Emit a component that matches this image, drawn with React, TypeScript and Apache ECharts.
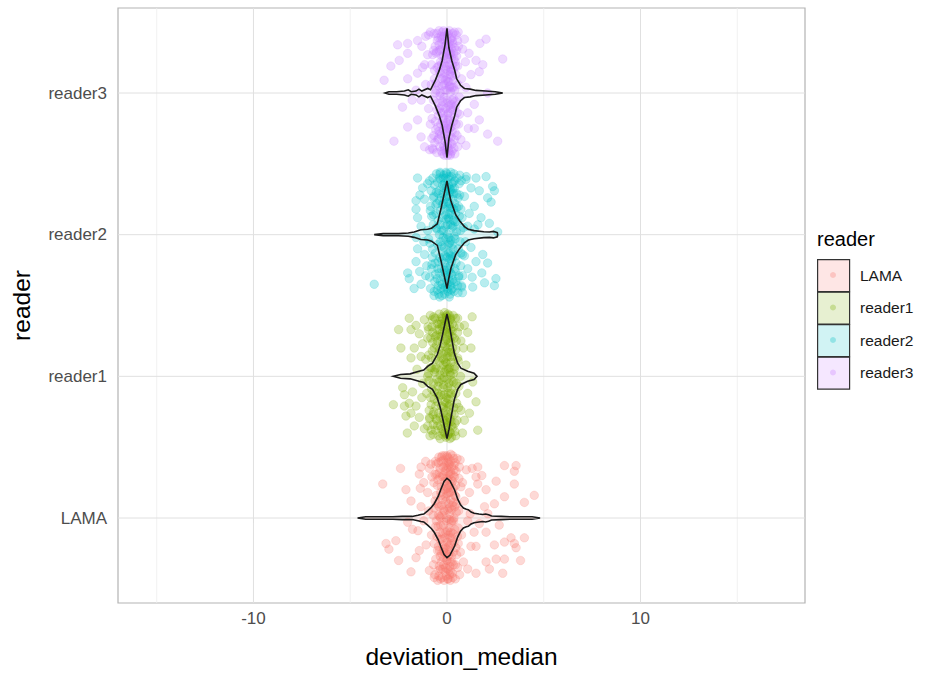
import React, { useEffect, useRef } from "react";
import * as echarts from "echarts";

const categories = ["LAMA", "reader1", "reader2", "reader3"];
const colors = ["#F8766D", "#7CAE00", "#00BFC4", "#C77CFF"];
const xLabelTicks = [-10, 0, 10];
const xMajorGrid = [-10, 0, 10];
const xMinorGrid = [-15, -5, 5, 15];
const yTicks = [0, 1, 2, 3];

// violin max half-width (category units) and profiles [x, relative width]
const violinMaxHalf = [0.28, 0.44, 0.38, 0.456];
const violinLAMA: [number, number][] = [
  [-4.62, 0], [-4.2, 0.03], [-3.5, 0.03], [-2.8, 0.03], [-2.3, 0.04], [-1.8, 0.04], [-1.5, 0.07], [-1.35, 0.09],
  [-1.2, 0.1], [-1.0, 0.18], [-0.8, 0.27], [-0.66, 0.36], [-0.45, 0.55], [-0.31, 0.73], [-0.15, 0.92], [0, 1],
  [0.15, 0.94], [0.3, 0.8], [0.4, 0.7], [0.55, 0.48], [0.7, 0.33], [0.85, 0.25], [1.0, 0.22], [1.1, 0.21],
  [1.25, 0.15], [1.4, 0.12], [1.65, 0.1], [1.85, 0.09], [2.0, 0.1], [2.15, 0.08], [2.3, 0.05], [2.8, 0.04],
  [3.3, 0.03], [3.9, 0.03], [4.4, 0.03], [4.81, 0],
];
const violinReader1: [number, number][] = [
  [-2.77, 0], [-2.4, 0.03], [-1.9, 0.04], [-1.45, 0.08], [-1.2, 0.1], [-1.0, 0.16], [-0.75, 0.21], [-0.5, 0.35],
  [-0.35, 0.5], [-0.22, 0.68], [-0.1, 0.86], [0, 1], [0.1, 0.86], [0.2, 0.68], [0.38, 0.37], [0.55, 0.21],
  [0.72, 0.13], [1.07, 0.08], [1.4, 0.05], [1.55, 0],
];
const violinReader2: [number, number][] = [
  [-3.76, 0], [-3.3, 0.02], [-2.5, 0.02], [-2.0, 0.03], [-1.7, 0.05], [-1.35, 0.09], [-1.0, 0.1], [-0.8, 0.12],
  [-0.5, 0.2], [-0.3, 0.5], [-0.15, 0.75], [0, 1], [0.1, 0.8], [0.2, 0.63], [0.45, 0.37], [0.65, 0.26],
  [0.9, 0.15], [1.1, 0.1], [1.4, 0.075], [1.9, 0.055], [2.2, 0.05], [2.4, 0.06], [2.6, 0.04], [2.62, 0],
];
const violinReader3: [number, number][] = [
  [-3.2, 0], [-3.0, 0.02], [-2.6, 0.02], [-2.2, 0.03], [-2.0, 0.05], [-1.85, 0.02], [-1.6, 0.03], [-1.45, 0.06],
  [-1.3, 0.03], [-1.0, 0.07], [-0.85, 0.05], [-0.6, 0.2], [-0.4, 0.35], [-0.25, 0.5], [-0.1, 0.75], [0, 1],
  [0.1, 0.7], [0.25, 0.5], [0.4, 0.35], [0.5, 0.22], [0.7, 0.12], [0.9, 0.07], [1.2, 0.06], [1.5, 0.04],
  [2.0, 0.03], [2.5, 0.02], [2.88, 0],
];
const violins = [violinLAMA, violinReader1, violinReader2, violinReader3];

// jittered points: [deviation_median, vertical jitter]
const pointsLAMA: [number, number][] = [
  [0.03, -0.43], [-0.12, 0.37], [0.2, 0.31], [-0.33, -0.36], [0.3, -0.11], [0.0, 0.44], [0.11, 0.23], [-0.23, 0.13],
  [0.42, 0.39], [-0.46, -0.06], [0.15, -0.4], [-0.09, -0.21], [0.25, 0.06], [-0.04, 0.28], [0.33, -0.33], [-0.4, 0.32],
  [0.07, -0.12], [-0.28, -0.25], [0.19, 0.45], [-0.05, -0.02], [0.46, -0.21], [-0.55, 0.16], [0.09, 0.1], [-0.19, 0.41],
  [0.28, -0.39], [-0.02, -0.3], [0.16, 0.18], [-0.36, -0.15], [0.04, 0.06], [0.41, 0.16], [-0.26, 0.02], [0.12, -0.07],
  [-0.15, -0.44], [0.24, -0.27], [-0.43, -0.37], [0.06, 0.36], [-0.31, 0.4], [0.36, 0.0], [-0.08, -0.38], [0.18, 0.33],
  [-0.5, 0.23], [0.1, -0.26], [-0.21, -0.11], [0.29, 0.26], [0.01, -0.17], [0.51, 0.1], [-0.38, 0.01], [0.14, -0.34],
  [-0.11, 0.26], [0.23, -0.18], [-0.58, -0.29], [0.05, 0.21], [-0.25, -0.42], [0.37, 0.34], [-0.03, 0.35], [0.22, -0.03],
  [-0.32, 0.18], [0.08, 0.42], [-0.16, -0.28], [0.32, 0.11], [-0.07, 0.15], [0.02, -0.36], [-0.44, -0.2], [0.17, -0.14],
  [-0.2, 0.3], [0.62, 0.28], [-0.7, -0.33], [0.75, -0.12], [-0.66, 0.07], [0.68, 0.41], [0.85, -0.31], [-0.78, 0.29],
  [-0.41, 0.08], [0.13, 0.38], [-0.18, -0.05], [0.34, -0.24], [-0.06, 0.12], [0.21, 0.4], [-0.29, -0.31], [0.08, -0.2],
  [-0.13, 0.2], [0.39, 0.29], [-0.35, 0.35], [0.02, -0.09], [0.27, -0.02], [-0.22, -0.36], [0.11, 0.3], [-0.47, 0.27],
  [0.18, -0.31], [-0.01, 0.39], [0.31, 0.19], [-0.27, 0.09], [0.06, -0.43], [-0.1, -0.14], [0.44, -0.33], [-0.37, -0.1],
  [0.15, 0.03], [-0.04, -0.41], [0.23, 0.24], [-0.2, 0.36], [0.0, 0.17], [-0.52, -0.13], [0.35, 0.42], [-0.14, 0.05],
  [0.1, -0.37], [-0.3, 0.22], [0.26, -0.14], [-0.08, -0.25], [0.48, 0.04], [-0.42, -0.41], [0.04, 0.27], [-0.24, -0.19],
  [0.19, 0.13], [-0.12, 0.44], [0.3, -0.42], [-0.33, 0.0], [0.07, 0.32], [-0.02, 0.0], [0.14, -0.23], [-0.45, 0.39],
  [0.4, -0.08], [-0.17, -0.33], [0.24, 0.36], [-0.06, -0.1], [0.12, 0.07], [-0.39, -0.23], [0.33, 0.3], [-0.23, 0.29],
  [0.01, -0.3], [-0.09, 0.33], [0.17, -0.44], [-0.28, 0.43], [0.45, 0.23], [-0.55, -0.02], [0.58, -0.18], [-0.62, 0.31],
  [0.09, 0.18], [-0.15, -0.22], [0.28, 0.09], [-0.34, -0.43], [0.03, 0.43], [0.2, -0.1],
  [-0.62, 0.12], [0.55, -0.35], [-0.48, -0.44], [0.47, 0.33], [-0.57, 0.38], [0.6, 0.05], [-0.35, -0.27], [0.37, -0.17],
  [-0.44, 0.02], [0.52, 0.42], [-0.66, -0.18], [0.43, -0.43], [-0.3, 0.16], [0.32, 0.21], [-0.53, 0.31], [0.58, -0.07],
  [-0.4, -0.34], [0.5, -0.26], [-0.68, 0.25], [0.4, 0.08], [-0.24, 0.44], [0.26, -0.31], [-0.58, -0.06], [0.64, 0.36],
  [-0.36, 0.29], [0.46, 0.15], [-0.49, -0.23], [0.34, -0.02], [-0.19, 0.06], [0.21, 0.27], [-0.08, -0.35], [0.09, 0.39],
  [-0.63, -0.4], [0.69, -0.24], [-0.27, -0.15], [0.15, -0.19], [-0.12, 0.23], [0.05, -0.27], [-0.42, 0.43], [0.29, 0.44],
  [-0.01, 0.21], [0.13, -0.01], [-0.5, 0.1], [0.54, -0.13], [-0.16, -0.24], [0.36, 0.37], [-0.71, 0.02], [0.72, 0.22],
  [-0.33, -0.05], [0.19, -0.38],
  [-0.8, -0.12], [0.9, 0.12], [-1.1, 0.4], [1.3, 0.35], [-0.6, 0.4], [0.65, -0.4], [1.2, 0.03], [-0.95, 0.05],
  [0.8, 0.25], [1.8, 0.3], [-2.4, 0.35], [2.7, -0.05], [-2.5, -0.3], [3.8, -0.3], [1.4, -0.1],
  [-3.32, 0.24], [-3.15, -0.18], [-3.0, -0.22], [-2.64, -0.16], [-2.12, 0.2], [-2.03, -0.03], [-1.86, 0.12], [-1.78, -0.08],
  [-1.86, -0.38], [-1.43, 0.31], [-1.38, 0.21], [-1.2, 0.25], [-0.91, 0.35], [-1.0, 0.18], [-1.34, 0.08], [-1.5, -0.09],
  [-1.43, -0.23], [-1.6, -0.28], [-1.08, -0.19], [-0.91, -0.37], [-1.2, -0.02], [-0.83, 0.38], [-1.34, 0.36], [-0.66, -0.42],
  [1.5, 0.29], [1.59, 0.36], [2.02, 0.2], [2.54, 0.26], [2.97, 0.37], [3.57, 0.37], [3.48, 0.33], [3.48, 0.24],
  [4.51, 0.16], [4.0, 0.11], [2.97, 0.15], [2.45, 0.1], [1.94, 0.08], [2.02, -0.1], [2.45, -0.19], [2.97, -0.17],
  [3.31, -0.14], [4.0, -0.14], [3.48, -0.18], [3.57, -0.21], [2.97, -0.29], [2.54, -0.29], [2.02, -0.31], [1.5, -0.39],
  [1.07, -0.36], [1.5, -0.2], [1.67, -0.04], [1.16, 0.18], [1.59, 0.24], [2.11, 0.03], [1.0, 0.34], [1.24, -0.2],
  [1.07, -0.02], [2.19, -0.36], [2.88, -0.39],
];
const pointsReader1: [number, number][] = [
  [-0.02, 0.42], [-0.25, 0.35], [0.1, 0.3], [-0.5, -0.35], [0.2, -0.12], [-0.12, 0.45], [0.04, 0.2], [-0.38, 0.1],
  [0.28, 0.37], [-0.7, -0.05], [0.06, -0.41], [-0.2, -0.22], [0.15, 0.03], [-0.08, 0.25], [0.23, -0.35], [-0.55, 0.29],
  [-0.03, -0.15], [-0.44, -0.26], [0.12, 0.43], [-0.15, -0.01], [0.35, -0.22], [-0.8, 0.13], [0.0, 0.09], [-0.3, 0.39],
  [0.18, -0.4], [-0.1, -0.31], [0.08, 0.17], [-0.48, -0.18], [-0.05, 0.05], [0.31, 0.14], [-0.36, 0.01], [0.03, -0.08],
  [-0.24, 0.41], [0.16, -0.3], [-0.6, -0.38], [-0.01, 0.33], [-0.42, 0.37], [0.26, -0.03], [-0.18, -0.39], [0.09, 0.31],
  [-0.66, 0.2], [0.02, -0.27], [-0.32, -0.13], [0.2, 0.24], [-0.11, -0.18], [0.4, 0.07], [-0.52, -0.02], [0.05, -0.35],
  [-0.22, 0.23], [0.14, -0.2], [-0.9, -0.29], [-0.04, 0.18], [-0.35, -0.44], [0.27, 0.32], [-0.13, 0.36], [0.11, -0.05],
  [-0.45, 0.16], [-0.02, 0.4], [-0.27, -0.37], [0.22, 0.1], [-0.16, 0.12], [-0.07, -0.36], [-0.58, -0.21], [0.07, -0.16],
  [-0.3, 0.28], [-0.75, 0.4], [-0.85, -0.15], [-0.62, 0.05], [0.45, -0.42], [0.48, 0.25], [-0.95, 0.33], [-0.72, -0.27],
  [-0.4, 0.44], [0.05, 0.38], [-0.65, -0.11], [0.25, -0.26], [-0.28, 0.13], [-0.06, -0.43], [0.14, 0.27], [-0.5, 0.33],
  [-0.17, -0.06], [0.33, 0.02], [-0.74, 0.24], [-0.02, -0.19], [0.19, 0.41], [-0.35, -0.29], [-0.09, 0.21], [0.42, -0.33],
  [-0.56, 0.06], [0.07, 0.05], [-0.23, -0.41], [-0.82, -0.2], [0.29, 0.2], [-0.13, 0.32], [-0.46, -0.07], [0.1, -0.29],
  [-0.31, 0.37], [0.0, -0.02], [-0.62, 0.41], [0.22, -0.09], [-0.19, -0.26], [-0.4, 0.19], [0.16, 0.14], [-0.04, 0.43],
  [-0.71, -0.34], [0.36, 0.35], [-0.26, -0.02], [-0.11, -0.4], [0.12, 0.36], [-0.53, -0.31], [-0.2, 0.08], [0.03, -0.33],
  [-0.37, 0.28], [0.24, -0.43], [-0.07, 0.1], [-0.87, 0.06], [0.46, -0.12], [-0.29, -0.21], [0.09, 0.24], [-0.15, -0.13],
  [-0.6, 0.12], [0.18, 0.01], [-0.44, -0.42], [-0.01, 0.26], [-0.33, 0.04], [0.31, -0.36], [-0.1, 0.39], [-0.68, -0.25],
  [0.06, -0.12], [-0.24, 0.31], [0.2, 0.33], [-0.48, 0.25], [-0.14, -0.33], [0.01, 0.14], [-0.78, 0.35], [0.38, 0.27],
  [-0.21, -0.08], [-0.05, -0.24], [-0.95, 0.02], [0.13, -0.39], [-0.41, -0.14], [-0.27, 0.42],
  [-0.98, 0.35], [0.52, -0.31], [-0.88, -0.42], [0.44, 0.41], [-1.05, -0.12], [0.58, 0.11], [-0.76, 0.18], [0.34, -0.04],
  [-0.92, -0.24], [0.5, -0.19], [-0.69, 0.42], [0.27, 0.28], [-0.84, 0.27], [0.41, -0.39], [-0.57, -0.3], [0.17, 0.4],
  [-0.64, 0.03], [0.55, 0.31], [-0.79, -0.09], [0.3, -0.15], [-0.51, 0.37], [0.21, -0.32], [-0.95, 0.15], [0.46, 0.19],
  [-0.72, -0.41], [0.13, 0.06], [-0.61, 0.28], [0.37, -0.27], [-0.43, -0.04], [0.04, 0.44], [-0.86, 0.43], [0.24, 0.17],
  [-0.34, -0.35], [0.09, -0.21], [-1.0, -0.35], [0.48, -0.05], [-0.54, 0.22], [-0.25, 0.16], [-0.47, -0.12], [0.32, 0.43],
  [-0.8, 0.06], [-0.12, 0.03], [-0.67, -0.16], [0.15, -0.44], [-0.39, 0.33], [-0.93, -0.03], [0.6, -0.22], [-0.2, -0.3],
  [-0.74, 0.31], [0.02, -0.42],
  [-1.1, 0.12], [0.7, 0.0], [-1.3, -0.15], [0.85, 0.2], [-1.55, 0.05], [0.65, 0.35], [-2.5, 0.33], [1.3, 0.42],
  [-2.05, -0.4], [0.8, -0.4],
  [-1.95, 0.41], [-1.6, 0.36], [-1.86, 0.33], [-1.17, 0.4], [-1.43, 0.3], [-2.38, 0.2], [-1.69, 0.2], [-1.86, 0.13],
  [-1.26, 0.23], [-1.0, 0.27], [-1.34, 0.14], [-2.29, -0.08], [-1.78, -0.11], [-2.2, -0.13], [-1.95, -0.19], [-2.77, -0.2],
  [-2.2, -0.21], [-1.6, -0.21], [-1.86, -0.26], [-1.43, -0.29], [-2.12, -0.28], [-0.9, -0.3], [-1.69, -0.35], [-1.17, -0.37],
  [-0.82, -0.38], [-1.0, 0.0], [-1.26, -0.05], [0.55, 0.41], [0.9, 0.36], [1.07, 0.31], [0.72, 0.25], [1.24, 0.2],
  [0.55, 0.13], [0.98, 0.08], [1.5, -0.18], [1.07, -0.12], [0.72, -0.24], [1.16, -0.26], [1.59, -0.38], [0.9, -0.31],
  [0.62, -0.07], [0.38, 0.05], [1.33, -0.04],
];
const pointsReader2: [number, number][] = [
  [0.05, -0.4], [-0.14, 0.36], [0.22, 0.3], [-0.35, -0.33], [0.31, -0.1], [-0.02, 0.43], [0.12, 0.22], [-0.24, 0.12],
  [0.4, 0.38], [-0.48, -0.07], [0.16, -0.42], [-0.1, -0.2], [0.26, 0.05], [0.0, 0.27], [0.34, -0.34], [-0.41, 0.31],
  [0.08, -0.13], [-0.3, -0.24], [0.2, 0.44], [-0.06, -0.03], [0.47, -0.2], [-0.57, 0.15], [0.1, 0.11], [-0.2, 0.4],
  [0.29, -0.38], [-0.04, -0.29], [0.17, 0.19], [-0.37, -0.16], [0.03, 0.07], [0.44, 0.15], [-0.27, 0.03], [0.13, -0.06],
  [-0.16, 0.42], [0.25, -0.28], [-0.45, -0.36], [0.07, 0.35], [-0.32, 0.39], [0.37, -0.01], [-0.09, -0.37], [0.19, 0.32],
  [-0.52, 0.22], [0.11, -0.25], [-0.22, -0.12], [0.3, 0.25], [-0.01, -0.16], [0.53, 0.09], [-0.39, 0.0], [0.15, -0.33],
  [-0.13, 0.25], [0.24, -0.19], [-0.6, -0.28], [0.06, 0.2], [-0.26, -0.43], [0.38, 0.33], [-0.03, 0.34], [0.21, -0.04],
  [-0.34, 0.17], [0.09, 0.41], [-0.17, -0.39], [0.33, 0.1], [-0.07, 0.14], [0.02, -0.35], [-0.46, -0.19], [0.18, -0.15],
  [-0.21, 0.29], [0.6, -0.3], [-0.64, 0.35], [0.72, 0.18], [-0.75, -0.1], [0.8, -0.41], [-0.7, 0.26], [0.66, 0.42],
  [0.42, -0.03], [-0.08, 0.4], [0.18, -0.27], [-0.29, 0.26], [0.07, 0.12], [-0.5, -0.31], [0.32, 0.37], [-0.15, -0.09],
  [0.12, -0.44], [-0.36, 0.07], [0.26, 0.19], [-0.03, -0.23], [0.5, 0.29], [-0.22, 0.35], [0.02, 0.0], [-0.43, -0.42],
  [0.21, -0.13], [-0.11, 0.18], [0.36, -0.4], [-0.33, -0.05], [0.14, 0.3], [-0.05, 0.44], [0.28, -0.32], [-0.19, -0.3],
  [0.04, 0.23], [-0.55, 0.3], [0.45, -0.15], [-0.27, -0.18], [0.1, -0.02], [-0.12, -0.42], [0.23, 0.41], [-0.4, 0.4],
  [0.01, -0.38], [0.31, 0.06], [-0.07, 0.06], [-0.24, 0.21], [0.16, -0.22], [-0.46, 0.1], [0.39, 0.22], [-0.01, 0.31],
  [0.08, -0.3], [-0.31, -0.38], [0.27, -0.07], [-0.16, 0.33], [0.55, -0.36], [-0.6, -0.13], [0.13, 0.15], [-0.09, -0.15],
  [0.35, 0.43], [-0.38, 0.24], [0.05, 0.39], [-0.2, -0.02], [0.22, -0.39], [-0.02, 0.11], [-0.47, -0.24], [0.3, 0.32],
  [-0.13, -0.25], [0.19, 0.07], [-0.35, 0.43], [0.06, -0.07], [0.43, -0.26], [-0.25, -0.35], [0.11, 0.27], [-0.04, -0.33],
  [0.24, 0.14], [-0.53, 0.04], [0.6, 0.2], [-0.66, -0.4], [0.15, -0.17], [-0.18, 0.03],
  [-0.82, 0.31], [0.71, -0.22], [-0.67, -0.43], [0.63, 0.36], [-0.88, -0.06], [0.78, 0.12], [-0.58, 0.21], [0.57, -0.41],
  [-0.73, 0.4], [0.49, 0.02], [-0.62, -0.2], [0.68, -0.05], [-0.44, 0.29], [0.41, -0.24], [-0.79, 0.13], [0.74, 0.38],
  [-0.51, -0.39], [0.58, 0.26], [-0.36, 0.44], [0.46, -0.33], [-0.9, -0.3], [0.8, -0.14], [-0.56, 0.05], [0.52, 0.4],
  [-0.68, 0.27], [0.35, 0.18], [-0.41, -0.27], [0.29, -0.16], [-0.76, -0.16], [0.66, 0.28], [-0.28, -0.08], [0.27, 0.36],
  [-0.49, 0.37], [0.62, -0.29], [-0.85, 0.2], [0.7, 0.03], [-0.63, -0.33], [0.44, 0.09], [-0.18, 0.22], [0.17, -0.36],
  [-0.71, 0.07], [0.59, -0.1], [-0.38, -0.44], [0.34, 0.29], [-0.54, 0.43], [0.76, -0.37], [-0.11, -0.27], [0.12, 0.33],
  [-0.8, -0.24], [0.5, 0.19],
  [-0.9, 0.38], [-1.2, -0.05], [1.15, 0.15], [-0.85, -0.38], [1.3, -0.3], [0.85, 0.05], [-1.4, 0.28], [1.6, 0.07],
  [-0.7, 0.14], [0.75, -0.36], [-1.05, -0.22], [1.0, 0.41], [-1.7, -0.38], [1.8, -0.27], [0.95, -0.05],
  [-1.52, 0.4], [-1.0, 0.36], [-1.26, 0.33], [-1.6, 0.24], [-1.16, 0.25], [-1.52, 0.12], [-1.6, 0.18], [-1.34, 0.06],
  [-1.6, -0.02], [-1.52, -0.1], [-1.16, -0.14], [-1.6, -0.19], [-1.41, -0.26], [-2.03, -0.27], [-1.95, -0.31], [-1.34, -0.35],
  [-1.1, -0.29], [-3.76, -0.35], [-0.86, 0.17], [-0.95, -0.03], [-0.78, -0.21], [-1.0, 0.03], [1.5, 0.4], [2.02, 0.41],
  [0.98, 0.39], [1.67, 0.31], [2.36, 0.34], [2.45, 0.31], [2.1, 0.26], [2.28, 0.23], [1.41, 0.2], [1.76, 0.12],
  [2.19, 0.08], [2.62, 0.02], [1.24, -0.09], [1.85, -0.14], [1.5, -0.19], [2.1, -0.2], [2.53, -0.31], [2.45, -0.36],
  [1.94, -0.34], [1.33, -0.37], [1.07, -0.24], [0.81, -0.29], [0.9, 0.27], [0.64, 0.13], [1.07, 0.06], [0.72, -0.13],
  [1.24, 0.33], [1.41, 0.04], [0.9, -0.15],
];
const pointsReader3: [number, number][] = [
  [0.02, 0.41], [-0.11, 0.33], [0.15, 0.27], [-0.32, 0.38], [0.28, 0.12], [-0.05, -0.42], [0.09, -0.31], [-0.21, -0.18],
  [0.36, -0.39], [-0.44, 0.05], [0.12, 0.44], [-0.15, 0.21], [0.21, -0.08], [-0.02, -0.25], [0.31, 0.35], [-0.38, -0.29],
  [0.05, 0.16], [-0.27, 0.26], [0.18, -0.43], [-0.09, 0.02], [0.43, 0.22], [-0.52, -0.12], [0.07, -0.14], [-0.18, -0.37],
  [0.25, 0.39], [-0.06, 0.29], [0.14, -0.22], [-0.33, 0.14], [0.01, -0.05], [0.39, -0.17], [-0.24, -0.06], [0.11, 0.08],
  [-0.13, -0.44], [0.23, 0.31], [-0.41, 0.34], [0.04, -0.38], [-0.29, -0.41], [0.33, 0.04], [-0.08, 0.37], [0.17, -0.35],
  [-0.47, -0.24], [0.08, 0.24], [-0.19, 0.11], [0.27, -0.27], [-0.03, 0.19], [0.45, -0.06], [-0.36, -0.02], [0.13, 0.36],
  [-0.12, -0.29], [0.22, 0.17], [-0.56, 0.28], [0.06, -0.19], [-0.25, 0.43], [0.35, 0.28], [-0.01, -0.33], [0.19, 0.01],
  [-0.31, -0.14], [0.1, -0.41], [-0.16, 0.4], [0.29, -0.12], [-0.07, -0.11], [0.03, 0.3], [-0.43, 0.19], [0.16, 0.13],
  [-0.2, -0.26], [-0.65, 0.1], [0.55, 0.37], [-0.72, -0.4], [0.6, -0.22], [-0.8, 0.2],
  [-0.27, -0.09], [0.12, 0.2], [-0.05, 0.43], [0.26, -0.36], [-0.4, 0.3], [0.04, -0.15], [-0.17, 0.26], [0.32, 0.09],
  [-0.1, -0.34], [0.2, 0.38], [-0.48, -0.33], [0.0, 0.1], [-0.23, -0.43], [0.38, 0.32], [-0.13, 0.06], [0.15, -0.25],
  [-0.34, 0.22], [0.07, 0.42], [-0.02, -0.21], [0.27, -0.05], [-0.55, 0.02], [0.1, 0.3], [-0.2, -0.14], [0.42, -0.28],
  [-0.07, 0.17], [0.17, -0.44], [-0.3, 0.4], [0.02, -0.36], [-0.14, -0.23], [0.24, 0.25], [-0.45, -0.16], [0.13, 0.04],
  [-0.04, 0.34], [0.34, -0.2], [-0.26, 0.1], [0.06, 0.27], [-0.18, 0.44], [0.22, -0.31], [-0.37, -0.38], [-0.01, 0.02],
  [0.3, 0.42], [-0.11, -0.4], [0.09, -0.09], [-0.5, 0.37], [0.19, 0.15], [-0.08, -0.27], [0.46, 0.13], [-0.22, 0.32],
  [0.03, -0.44], [-0.35, 0.0], [0.15, 0.34], [-0.15, -0.03], [0.28, 0.2], [-0.42, -0.27], [0.05, 0.08], [-0.28, -0.3],
  [0.36, -0.1], [-0.06, 0.24], [0.11, -0.18], [-0.6, -0.2], [0.25, 0.04], [-0.12, 0.14], [0.01, 0.37], [-0.32, -0.22],
  [0.18, -0.11], [-0.03, -0.07], [0.5, 0.3], [-0.39, 0.15], [0.08, -0.39], [-0.24, 0.38],
  [-0.74, 0.27], [0.52, -0.3], [-0.63, -0.35], [0.48, 0.41], [-0.7, -0.05], [0.57, 0.06], [-0.51, 0.18], [0.41, -0.43],
  [-0.67, 0.42], [0.44, 0.19], [-0.58, -0.26], [0.53, -0.14], [-0.46, 0.39], [0.37, 0.24], [-0.77, -0.18], [0.59, 0.33],
  [-0.53, -0.42], [0.33, -0.04], [-0.39, -0.11], [0.28, 0.37], [-0.81, 0.06], [0.47, -0.22], [-0.61, 0.33], [0.4, 0.02],
  [-0.44, -0.32], [0.21, -0.24], [-0.34, 0.31], [0.14, 0.05], [-0.57, 0.07], [0.5, 0.26], [-0.22, -0.2], [0.26, -0.41],
  [-0.49, -0.07], [0.32, 0.16], [-0.68, -0.3], [0.55, -0.38], [-0.3, 0.2], [0.09, 0.33], [-0.41, 0.44], [0.44, -0.09],
  [-0.16, -0.38], [0.2, 0.28], [-0.64, 0.16], [0.58, 0.43], [-0.09, 0.09], [0.06, -0.25], [-0.75, -0.39], [0.38, -0.33],
  [-0.26, 0.05], [-0.54, 0.29],
  [-1.3, 0.33], [0.75, 0.1], [-0.9, -0.4], [1.1, -0.25], [-1.8, -0.05], [1.7, 0.35], [-2.3, -0.1], [0.65, -0.15],
  [-1.15, 0.2], [0.95, 0.22],
  [-3.25, 0.09], [-2.9, 0.19], [-2.55, 0.34], [-2.74, -0.34], [-2.03, 0.35], [-2.03, 0.28], [-2.47, 0.23], [-2.03, 0.1],
  [-2.03, -0.24], [-1.52, 0.37], [-1.52, 0.14], [-1.34, -0.05], [-1.52, -0.19], [-1.34, -0.31], [-1.0, 0.27], [-1.16, -0.38],
  [-0.95, -0.11], [-1.1, 0.4], [2.02, 0.38], [2.88, 0.24], [1.5, 0.23], [1.14, 0.28], [1.67, 0.15], [1.85, 0.2],
  [1.24, 0.13], [2.1, 0.0], [1.41, -0.08], [1.67, -0.19], [1.41, -0.25], [2.1, -0.29], [2.62, -0.34], [0.98, -0.37],
  [0.72, -0.33], [1.07, -0.14], [0.9, 0.38], [0.81, 0.31], [0.98, 0.04], [0.64, -0.03], [0.55, 0.19], [-0.95, 0.41],
  [-0.52, 0.42], [0.38, 0.43], [-0.6, 0.0], [-0.86, -0.22], [-1.6, 0.02], [-1.1, 0.06], [-1.26, 0.18], [-0.78, -0.32],
  [-0.69, 0.3], [-0.86, 0.43],
];
const pointSets = [pointsLAMA, pointsReader1, pointsReader2, pointsReader3];

const X_MIN = -17;
const X_MAX = 18.5;
const Y_MIN = -0.6;
const Y_MAX = 3.6;
const FONT = "'Liberation Sans', Arial, sans-serif";

function hexA(hex: string, a: number) {
  const r = parseInt(hex.slice(1, 3), 16);
  const g = parseInt(hex.slice(3, 5), 16);
  const b = parseInt(hex.slice(5, 7), 16);
  return `rgba(${r},${g},${b},${a})`;
}

export default function App() {
  const ref = useRef<HTMLDivElement>(null);
  useEffect(() => {
    if (!ref.current) return;
    const chart = echarts.init(ref.current, undefined, { renderer: "svg" });

    const gridV = [
      ...xMinorGrid.map((x) => ({ value: [x, 0], minor: true })),
      ...xMajorGrid.map((x) => ({ value: [x, 0], minor: false })),
    ];

    const series: any[] = [
      {
        type: "custom",
        name: "gridV",
        z: 1,
        silent: true,
        data: gridV,
        renderItem: (params: any, api: any) => {
          const item = gridV[params.dataIndex];
          const x = api.value(0);
          const p1 = api.coord([x, Y_MIN]);
          const p2 = api.coord([x, Y_MAX]);
          return {
            type: "line",
            shape: { x1: p1[0], y1: p1[1], x2: p2[0], y2: p2[1] },
            style: { stroke: item.minor ? "#EDEDED" : "#E0E0E0", lineWidth: item.minor ? 0.8 : 1 },
          };
        },
      },
      {
        type: "custom",
        name: "gridH",
        z: 1,
        silent: true,
        data: yTicks.map((y) => [0, y]),
        renderItem: (params: any, api: any) => {
          const y = api.value(1);
          const p1 = api.coord([X_MIN, y]);
          const p2 = api.coord([X_MAX, y]);
          return {
            type: "line",
            shape: { x1: p1[0], y1: p1[1], x2: p2[0], y2: p2[1] },
            style: { stroke: "#E0E0E0", lineWidth: 1 },
          };
        },
      },
      ...pointSets.map((pts, i) => ({
        type: "scatter",
        name: categories[i],
        z: 2,
        symbol: "circle",
        symbolSize: 8.5,
        data: pts.map(([x, dy]) => [x, i + dy]),
        itemStyle: {
          color: colors[i],
          opacity: 0.28,
          borderColor: colors[i],
          borderWidth: 0.7,
        },
        emphasis: { disabled: true },
      })),
      {
        type: "custom",
        name: "violins",
        z: 3,
        silent: true,
        data: categories.map((_, i) => [0, i]),
        renderItem: (params: any, api: any) => {
          const i = params.dataIndex;
          const prof = violins[i];
          const h = violinMaxHalf[i];
          const upper = prof.map(([x, w]) => api.coord([x, i + w * h]));
          const lower = prof
            .slice()
            .reverse()
            .map(([x, w]) => api.coord([x, i - w * h]));
          return {
            type: "polygon",
            shape: { points: upper.concat(lower) },
            style: { fill: hexA(colors[i], 0.12), stroke: "#1A1A1A", lineWidth: 1.6 },
          };
        },
      },
    ];

    const legendItems: any[] = [
      {
        type: "text",
        left: 817,
        top: 229,
        style: { text: "reader", font: `20px ${FONT}`, fill: "#000" },
      },
    ];
    categories.forEach((c, i) => {
      const top = 259 + i * 32.5;
      legendItems.push({
        type: "rect",
        left: 817,
        top,
        shape: { width: 32, height: 32 },
        style: { fill: hexA(colors[i], 0.18), stroke: "#333333", lineWidth: 1.2 },
      });
      legendItems.push({
        type: "circle",
        left: 830,
        top: top + 13,
        shape: { r: 3 },
        style: { fill: hexA(colors[i], 0.3) },
      });
      legendItems.push({
        type: "text",
        left: 860,
        top: top + 8,
        style: { text: c, font: `15.5px ${FONT}`, fill: "#1A1A1A" },
      });
    });

    chart.setOption({
      animation: false,
      backgroundColor: "#ffffff",
      textStyle: { fontFamily: FONT },
      grid: {
        left: 118,
        right: 122,
        top: 8,
        bottom: 68,
        show: true,
        borderColor: "#B3B3B3",
        borderWidth: 1.2,
        backgroundColor: "transparent",
      },
      xAxis: {
        type: "value",
        min: X_MIN,
        max: X_MAX,
        name: "deviation_median",
        nameLocation: "middle",
        nameGap: 41,
        nameTextStyle: { fontSize: 24.5, color: "#000", fontFamily: FONT },
        axisLine: { show: false },
        axisTick: { show: true, customValues: xLabelTicks, length: 5, lineStyle: { color: "#B3B3B3", width: 1 } },
        axisLabel: {
          customValues: xLabelTicks,
          fontSize: 17,
          color: "#4D4D4D",
          margin: 7,
          fontFamily: FONT,
        },
        splitLine: { show: false },
      },
      yAxis: {
        type: "value",
        min: Y_MIN,
        max: Y_MAX,
        name: "reader",
        nameLocation: "middle",
        nameGap: 84,
        nameRotate: 90,
        nameTextStyle: { fontSize: 24.5, color: "#000", fontFamily: FONT },
        axisLine: { show: false },
        axisTick: { show: true, customValues: yTicks, length: 5, lineStyle: { color: "#B3B3B3", width: 1 } },
        axisLabel: {
          customValues: yTicks,
          formatter: (v: number) => categories[Math.round(v)] ?? "",
          fontSize: 17,
          color: "#4D4D4D",
          margin: 11,
          fontFamily: FONT,
        },
        splitLine: { show: false },
      },
      graphic: legendItems,
      series,
    });
    return () => chart.dispose();
  }, []);
  return <div ref={ref} style={{ position: "fixed", left: 0, top: 0, width: 927, height: 674 }} />;
}
